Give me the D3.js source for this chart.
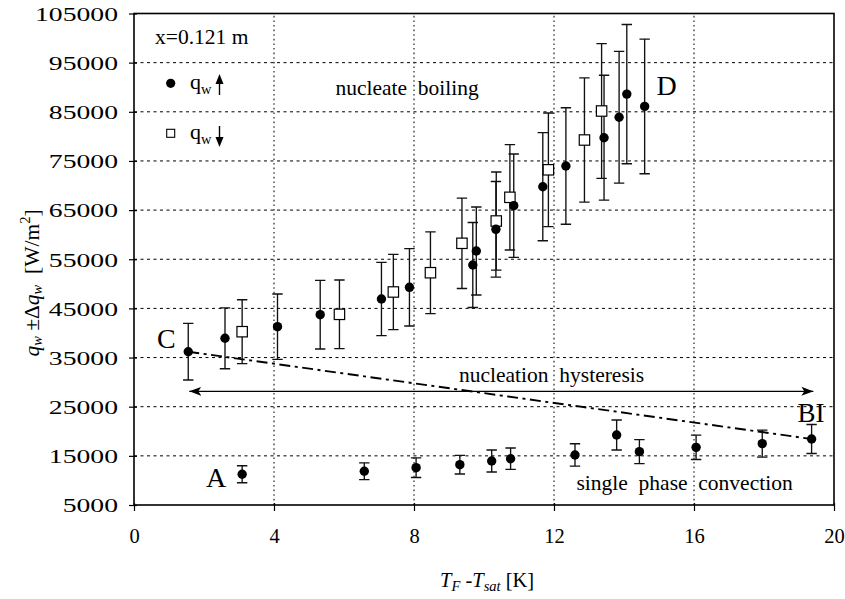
<!DOCTYPE html>
<html>
<head>
<meta charset="utf-8">
<script src="https://cdn.jsdelivr.net/npm/d3@7/dist/d3.min.js"></script>
<style>
  html, body { margin: 0; padding: 0; background: #fff; }
  svg { display: block; font-family: "Liberation Serif", "Times New Roman", serif; }
</style>
</head>
<body>
<svg id="chart" width="845" height="599"></svg>
<script>
// Wall heat flux vs. fluid superheat at x = 0.121 m, with measurement uncertainty.
// Each row: [T_F - T_sat (K), q_w (W/m^2), ±Δq_w (W/m^2)]

// Increasing heat flux, single-phase convection branch (A → BI)
const upSinglePhase = [
  [3.09, 11250, 1730],
  [6.58, 11860, 1700],
  [8.06, 12590, 2000],
  [9.31, 13200, 1900],
  [10.22, 13950, 2240],
  [10.76, 14420, 2170],
  [12.60, 15180, 2280],
  [13.79, 19240, 3050],
  [14.44, 15850, 2440],
  [16.06, 16730, 2480],
  [17.95, 17480, 2750],
  [19.36, 18430, 2950]
];

// Increasing heat flux, nucleate boiling branch (C → D)
const upBoiling = [
  [1.55, 36190, 5760],
  [2.60, 38920, 6200],
  [4.10, 41280, 6650],
  [5.32, 43720, 6980],
  [7.07, 46910, 7460],
  [7.87, 49290, 7870],
  [9.68, 53830, 8650],
  [9.78, 56680, 8950],
  [10.34, 61090, 9730],
  [10.85, 65900, 10520],
  [11.68, 69760, 11000],
  [12.34, 73970, 11850],
  [13.43, 79730, 12700],
  [13.86, 83900, 13400],
  [14.08, 88600, 14170],
  [14.59, 86100, 13700]
];

// Decreasing heat flux
const downBoiling = [
  [3.09, 40260, 6510],
  [5.87, 43790, 6980],
  [7.41, 48340, 7660],
  [8.47, 52260, 8310],
  [9.37, 58245, 9190],
  [10.35, 62780, 9980],
  [10.74, 67600, 10720],
  [11.84, 73200, 11550],
  [12.87, 79260, 12650],
  [13.36, 85160, 13700]
];

// Hysteresis span arrow (x from, x to, q level)
const hysteresisArrow = [1.58, 19.41, 28130];

const xTicks = [0, 4, 8, 12, 16, 20];
const yTicks = [5000, 15000, 25000, 35000, 45000, 55000, 65000, 75000, 85000, 95000, 105000];

const svg = d3.select("#chart");
const margin = { left: 134, right: 11, top: 13.5, bottom: 94 };
const W = 845, H = 599;

const x = d3.scaleLinear().domain([0, 20]).range([margin.left, W - margin.right]);
const y = d3.scaleLinear().domain([5000, 105000]).range([H - margin.bottom, margin.top]);

// Grid
const grid = svg.append("g");
grid.selectAll("line.h").data(yTicks.filter(v => v > 5000 && v < 105000)).join("line")
  .attr("x1", x(0)).attr("x2", x(20))
  .attr("y1", d => y(d)).attr("y2", d => y(d))
  .attr("stroke", "#000").attr("stroke-width", 1).attr("stroke-dasharray", "3,3.5");
grid.selectAll("line.v").data(xTicks.filter(v => v > 0 && v < 20)).join("line")
  .attr("y1", y(5000)).attr("y2", y(105000))
  .attr("x1", d => x(d)).attr("x2", d => x(d))
  .attr("stroke", "#333").attr("stroke-width", 1.3).attr("stroke-dasharray", "1.6,3");

// Axes
const xAxis = svg.append("g").attr("transform", `translate(0,${y(5000)})`)
  .call(d3.axisBottom(x).tickValues(xTicks).tickSize(6).tickPadding(17).tickFormat(d3.format("d")));
const yAxis = svg.append("g").attr("transform", `translate(${x(0)},0)`)
  .call(d3.axisLeft(y).tickValues(yTicks).tickSize(5).tickPadding(0).tickFormat(d3.format("d")));
[xAxis, yAxis].forEach(a => {
  a.attr("font-family", null);
  a.select(".domain").remove();
  a.selectAll("line").attr("stroke", "#000").attr("stroke-width", 1.2);
});
xAxis.selectAll("text").attr("font-size", 20.5).attr("fill", "#000");
yAxis.selectAll(".tick line").attr("x2", -5).attr("x1", 3);
yAxis.selectAll(".tick text")
  .attr("x", null).attr("dy", null)
  .attr("font-size", 19.5).attr("fill", "#000")
  .attr("text-anchor", "end")
  .attr("transform", "translate(-16,6.8) scale(1.42,1)");
xAxis.selectAll(".tick line").attr("y1", -2);

// Frame
svg.append("rect")
  .attr("x", x(0)).attr("y", y(105000))
  .attr("width", x(20) - x(0)).attr("height", y(5000) - y(105000))
  .attr("fill", "none").attr("stroke", "#000").attr("stroke-width", 1.6);

// Hysteresis dash-dot line from C to BI
const C = upBoiling[0], BI = upSinglePhase[upSinglePhase.length - 1];
svg.append("line")
  .attr("x1", x(C[0])).attr("y1", y(C[1]))
  .attr("x2", x(BI[0])).attr("y2", y(BI[1]))
  .attr("stroke", "#000").attr("stroke-width", 1.9).attr("stroke-dasharray", "11,4.5,3,4.5");

// Double-headed arrow
const defs = svg.append("defs");
["start", "end"].forEach(k => {
  defs.append("marker").attr("id", "arr-" + k)
    .attr("viewBox", "0 0 12 10").attr("refX", k === "end" ? 12 : 0).attr("refY", 5)
    .attr("markerWidth", 12).attr("markerHeight", 10).attr("markerUnits", "userSpaceOnUse")
    .attr("orient", "auto")
    .append("path")
    .attr("d", k === "end" ? "M0,0.5 L12,5 L0,9.5 L3,5 Z" : "M12,0.5 L0,5 L12,9.5 L9,5 Z")
    .attr("fill", "#000");
});
svg.append("line")
  .attr("x1", x(hysteresisArrow[0])).attr("x2", x(hysteresisArrow[1]))
  .attr("y1", y(hysteresisArrow[2])).attr("y2", y(hysteresisArrow[2]))
  .attr("stroke", "#000").attr("stroke-width", 1.2)
  .attr("marker-start", "url(#arr-start)").attr("marker-end", "url(#arr-end)");

// Error bars
const allSeries = [upSinglePhase, upBoiling, downBoiling];
const cap = 5.2;
const bars = svg.append("g").attr("stroke", "#111").attr("stroke-width", 1.35).attr("fill", "none");
allSeries.forEach(series => {
  series.forEach(([tx, q, dq]) => {
    const px = x(tx), top = y(q + dq), bot = y(q - dq);
    bars.append("path")
      .attr("d", `M${px},${top}V${bot}M${px - cap},${top}H${px + cap}M${px - cap},${bot}H${px + cap}`);
  });
});

// Markers
svg.append("g").selectAll("rect").data(downBoiling).join("rect")
  .attr("x", d => x(d[0]) - 5.2).attr("y", d => y(d[1]) - 5.2)
  .attr("width", 10.4).attr("height", 10.4)
  .attr("fill", "#fff").attr("stroke", "#000").attr("stroke-width", 1.2);
svg.append("g").selectAll("circle").data(upSinglePhase.concat(upBoiling)).join("circle")
  .attr("cx", d => x(d[0])).attr("cy", d => y(d[1])).attr("r", 4.7)
  .attr("fill", "#000");

// Annotations
function label(text, px, py, size, anchor) {
  return svg.append("text").attr("x", px).attr("y", py)
    .attr("font-size", size).attr("fill", "#000")
    .attr("text-anchor", anchor || "start")
    .style("white-space", "pre").text(text);
}
label("x=0.121 m", 155, 44, 21.5);
label("nucleate  boiling", 335.5, 95, 21.5);
label("nucleation  hysteresis", 459, 382, 21.5);
label("single  phase  convection", 576.5, 490, 21.5);
label("D", 656.5, 95, 28);
label("C", 157, 348, 28);
label("A", 206, 486.5, 28);
label("BI", 797.5, 422, 27);

// Legend
const lg = svg.append("g");
lg.append("circle").attr("cx", 170.7).attr("cy", 83.3).attr("r", 4.6).attr("fill", "#000");
lg.append("rect").attr("x", 166.7).attr("y", 129.3).attr("width", 8).attr("height", 8)
  .attr("fill", "#fff").attr("stroke", "#000").attr("stroke-width", 1.1);
[[0, "up"], [50, "down"]].forEach(([dy, dir]) => {
  const t = lg.append("text").attr("x", 190).attr("y", 89 + dy).attr("font-size", 22).attr("fill", "#000");
  t.append("tspan").text("q");
  t.append("tspan").attr("font-size", 14.5).attr("dy", 5).text("w");
  const ax = 219.5;
  if (dir === "up") {
    lg.append("path").attr("d", `M${ax},${74 + dy}L${ax + 4},${84 + dy}L${ax - 4},${84 + dy}Z`).attr("fill", "#000");
    lg.append("line").attr("x1", ax).attr("x2", ax).attr("y1", 82 + dy).attr("y2", 95 + dy)
      .attr("stroke", "#000").attr("stroke-width", 1.4);
  } else {
    lg.append("path").attr("d", `M${ax},${97 + dy}L${ax + 4},${87 + dy}L${ax - 4},${87 + dy}Z`).attr("fill", "#000");
    lg.append("line").attr("x1", ax).attr("x2", ax).attr("y1", 76 + dy).attr("y2", 89 + dy)
      .attr("stroke", "#000").attr("stroke-width", 1.4);
  }
});

// Axis titles
const xt = svg.append("text").attr("x", 440).attr("y", 587).attr("font-size", 20.5).attr("fill", "#000")
  .style("white-space", "pre");
xt.append("tspan").attr("font-style", "italic").text("T");
xt.append("tspan").attr("font-style", "italic").attr("font-size", 14.5).attr("dy", 4).text("F");
xt.append("tspan").attr("dy", -4).text(" -");
xt.append("tspan").attr("font-style", "italic").text("T");
xt.append("tspan").attr("font-style", "italic").attr("font-size", 14.5).attr("dy", 4).text("sat");
xt.append("tspan").attr("dy", -4).text(" [K]");

const yt = svg.append("text").attr("transform", "translate(39,283) rotate(-90)")
  .attr("text-anchor", "middle").attr("font-size", 21.5).attr("fill", "#000")
  .style("white-space", "pre");
yt.append("tspan").attr("font-style", "italic").text("q");
yt.append("tspan").attr("font-style", "italic").attr("font-size", 14.5).attr("dy", 3).text("w");
yt.append("tspan").attr("dy", -3).text(" ±");
yt.append("tspan").text("Δ");
yt.append("tspan").attr("font-style", "italic").text("q");
yt.append("tspan").attr("font-style", "italic").attr("font-size", 14.5).attr("dy", 3).text("w");
yt.append("tspan").attr("dy", -3).text("  [W/m");
yt.append("tspan").attr("font-size", 14.5).attr("dy", -9).text("2");
yt.append("tspan").attr("dy", 9).text("]");
</script>
</body>
</html>
